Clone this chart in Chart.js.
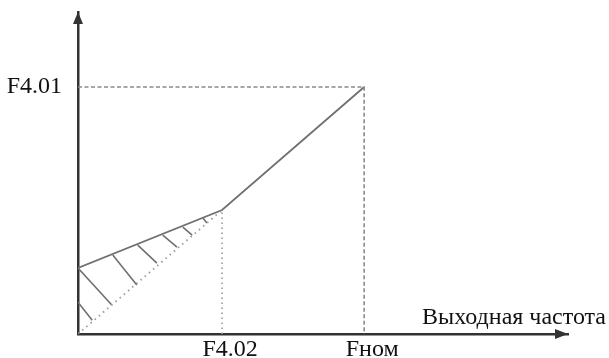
<!DOCTYPE html>
<html><head><meta charset="utf-8">
<script src="https://cdn.jsdelivr.net/npm/chart.js@4/dist/chart.umd.min.js"></script>
<style>html,body{margin:0;padding:0;background:#fff}canvas{display:block}</style>
</head><body>
<canvas id="c" width="609" height="358"></canvas>
<script>
// Characteristic points (axis units 0..10)
const F402 = 2.94;      // knee frequency
const FNOM = 5.84;      // nominal frequency
const F401 = 7.67;      // value at nominal frequency
const BOOST = 2.05;     // value at zero frequency
const KNEE = 3.85;      // value at knee

const boostLineX = [0, F402, FNOM];
const boostLineY = [BOOST, KNEE, F401];
const linearX = [0, F402];
const linearY = [0, KNEE];
const dashedX = [0, FNOM, FNOM];
const dashedY = [F401, F401, 0];
const kneeGuideX = [F402, F402];
const kneeGuideY = [0, KNEE];
// hatch strokes: [x0, y0, x1, y1]
const hatchStrokes = [
  [0, 0.99, 0.29, 0.43],
  [0, 2.05, 0.69, 0.90],
  [0.71, 2.45, 1.20, 1.52],
  [1.22, 2.76, 1.61, 2.20],
  [1.73, 3.07, 2.02, 2.70],
  [2.14, 3.32, 2.33, 3.07],
  [2.55, 3.60, 2.63, 3.45]
];
const xTickValues = [F402, FNOM];
const xTickLabels = ['F4.02', 'Fном'];
const yTickValues = [F401];
const yTickLabels = ['F4.01'];
const xAxisName = 'Выходная частота';

const pts = (xs, ys) => xs.map((x, i) => ({x: x, y: ys[i]}));
const hatchData = [];
hatchStrokes.forEach(s => { hatchData.push({x: s[0], y: s[1]}, {x: s[2], y: s[3]}, {x: s[2], y: null}); });

const FONT = '"Liberation Serif", "Times New Roman", serif';
const base = {pointRadius: 0, fill: false, tension: 0, showLine: true, spanGaps: false};

const decor = {
  id: 'decor',
  afterDraw(chart) {
    const ctx = chart.ctx, a = chart.chartArea;
    const x0 = chart.scales.x.getPixelForValue(0);
    const y0 = chart.scales.y.getPixelForValue(0);
    ctx.save();
    ctx.fillStyle = '#333';
    ctx.beginPath();
    ctx.moveTo(x0, a.top);
    ctx.lineTo(x0 - 5, a.top + 12);
    ctx.lineTo(x0 + 5, a.top + 12);
    ctx.closePath(); ctx.fill();
    ctx.beginPath();
    ctx.moveTo(a.right, y0);
    ctx.lineTo(a.right - 13, y0 - 5);
    ctx.lineTo(a.right - 13, y0 + 5);
    ctx.closePath(); ctx.fill();
    ctx.fillStyle = '#111';
    ctx.font = '24px ' + FONT;
    ctx.textAlign = 'right';
    ctx.textBaseline = 'alphabetic';
    ctx.fillText(xAxisName, a.right + 38, y0 - 10);
    ctx.restore();
  }
};

const zeroPad = s => { s.paddingLeft = 0; s.paddingRight = 0; s.paddingTop = 0; s.paddingBottom = 0; };

new Chart(document.getElementById('c'), {
  type: 'scatter',
  data: {
    datasets: [
      Object.assign({}, base, {data: pts(dashedX, dashedY), borderColor: '#8a8a8a', borderWidth: 1.6, borderDash: [4, 2.5]}),
      Object.assign({}, base, {data: pts(kneeGuideX, kneeGuideY), borderColor: '#9a9a9a', borderWidth: 1.6, borderDash: [1.5, 3.5]}),
      Object.assign({}, base, {data: pts(linearX, linearY), borderColor: '#9a9a9a', borderWidth: 1.8, borderDash: [1.5, 4]}),
      Object.assign({}, base, {data: hatchData, borderColor: '#707070', borderWidth: 1.6}),
      Object.assign({}, base, {data: pts(boostLineX, boostLineY), borderColor: '#707070', borderWidth: 1.8})
    ]
  },
  options: {
    responsive: false,
    animation: false,
    devicePixelRatio: 1,
    layout: {padding: {left: 0, right: 41, top: 12, bottom: 0}},
    plugins: {legend: {display: false}, tooltip: {enabled: false}},
    scales: {
      x: {
        type: 'linear', min: 0, max: 10,
        grid: {display: false, drawTicks: false},
        border: {display: true, color: '#333', width: 2.5},
        afterBuildTicks: s => { s.ticks = xTickValues.map(v => ({value: v})); },
        afterFit: s => { s.height = 24; zeroPad(s); },
        ticks: {
          color: '#111', padding: 1, labelOffset: 8, maxRotation: 0, autoSkip: false,
          font: {family: FONT, size: 24},
          callback: (v) => { const i = xTickValues.indexOf(v); return i >= 0 ? xTickLabels[i] : ''; }
        }
      },
      y: {
        type: 'linear', min: 0, max: 10,
        grid: {display: false, drawTicks: false},
        border: {display: true, color: '#333', width: 2.5},
        afterBuildTicks: s => { s.ticks = yTickValues.map(v => ({value: v})); },
        afterFit: s => { s.width = 78; zeroPad(s); },
        ticks: {
          color: '#111', padding: 16, autoSkip: false,
          font: {family: FONT, size: 24},
          callback: (v) => { const i = yTickValues.indexOf(v); return i >= 0 ? yTickLabels[i] : ''; }
        }
      }
    }
  },
  plugins: [decor]
});
</script>
</body></html>
